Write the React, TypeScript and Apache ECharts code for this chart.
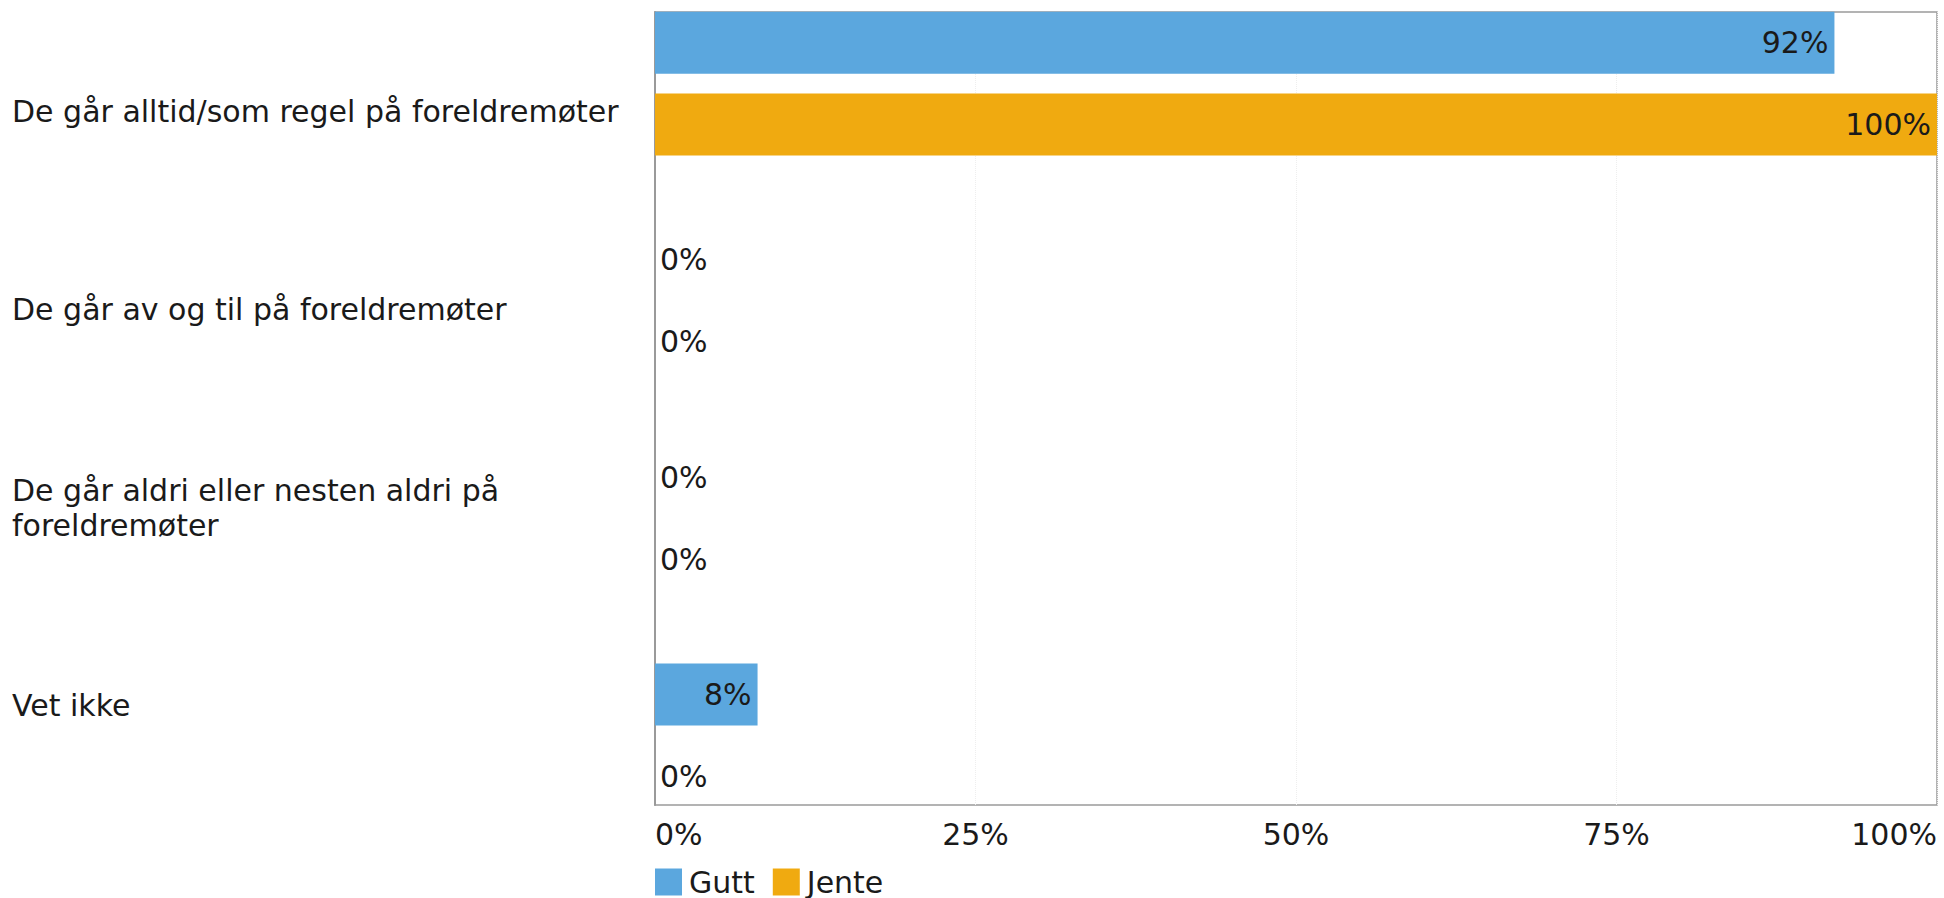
import React, { useEffect, useRef } from "react";
import * as echarts from "echarts";

const categories = [
  "De går alltid/som regel på foreldremøter",
  "De går av og til på foreldremøter",
  "De går aldri eller nesten aldri på\nforeldremøter",
  "Vet ikke",
];
const seriesNames = ["Gutt", "Jente"];
const gutt = [92, 0, 0, 8];
const jente = [100, 0, 0, 0];
const xTicks = [0, 25, 50, 75, 100];

const COLORS = ["#5BA7DE", "#F0AA10"];
const FONT = "'DejaVu Sans', Verdana, sans-serif";
const TEXT = "#1a1a1a";
const SHIFT = 25; // container is shifted up so the bar band can start above the frame

export default function App() {
  const ref = useRef<HTMLDivElement>(null);
  useEffect(() => {
    if (!ref.current) return;
    const chart = echarts.init(ref.current, null, { renderer: "svg" });
    const mk = (vals: number[]) =>
      vals.map((v) => ({
        value: v,
        label:
          v === 0
            ? { position: "right", distance: 5 }
            : { position: "insideRight", distance: 6 },
      }));
    chart.setOption({
      animation: false,
      textStyle: { fontFamily: FONT },
      legend: {
        data: seriesNames,
        left: 655,
        top: 867 + SHIFT,
        icon: "rect",
        itemWidth: 27,
        itemHeight: 27,
        itemGap: 18,
        padding: 0,
        textStyle: { fontSize: 30, color: TEXT, fontFamily: FONT, padding: [0, 0, 0, 2] },
      },
      grid: [
        {
          left: 655,
          top: 12 + SHIFT,
          width: 1282,
          height: 793,
          show: true,
          borderColor: "#9a9a9a",
          borderWidth: 1.5,
          backgroundColor: "transparent",
        },
        { left: 655, top: 0, width: 1282, height: 869 },
      ],
      xAxis: [
        {
          gridIndex: 0,
          type: "value",
          min: xTicks[0],
          max: xTicks[xTicks.length - 1],
          interval: 25,
          axisLine: { show: false },
          axisTick: { show: false },
          splitLine: { show: true, lineStyle: { color: "#eeeeee", type: "dotted" } },
          axisLabel: {
            formatter: "{value}%",
            fontSize: 30,
            color: TEXT,
            fontFamily: FONT,
            margin: 14,
            alignMinLabel: "left",
            alignMaxLabel: "right",
          },
        },
        {
          gridIndex: 1,
          type: "value",
          min: 0,
          max: 100,
          show: false,
        },
      ],
      yAxis: [
        {
          gridIndex: 0,
          type: "category",
          inverse: true,
          data: categories,
          axisLine: { show: true, lineStyle: { color: "#9a9a9a", width: 2 } },
          axisTick: { show: false },
          axisLabel: {
            align: "left",
            margin: 643,
            fontSize: 30,
            lineHeight: 35,
            color: TEXT,
            fontFamily: FONT,
          },
        },
        {
          gridIndex: 1,
          type: "category",
          inverse: true,
          data: categories,
          show: false,
        },
      ],
      series: [
        {
          name: seriesNames[0],
          type: "bar",
          xAxisIndex: 1,
          yAxisIndex: 1,
          barWidth: 62,
          barGap: "32%",
          itemStyle: { color: COLORS[0] },
          label: {
            show: true,
            formatter: "{c}%",
            fontSize: 30,
            color: TEXT,
            fontFamily: FONT,
          },
          data: mk(gutt),
        },
        {
          name: seriesNames[1],
          type: "bar",
          xAxisIndex: 1,
          yAxisIndex: 1,
          barWidth: 62,
          barGap: "32%",
          itemStyle: { color: COLORS[1] },
          label: {
            show: true,
            formatter: "{c}%",
            fontSize: 30,
            color: TEXT,
            fontFamily: FONT,
          },
          data: mk(jente),
        },
      ],
    });
    return () => chart.dispose();
  }, []);
  return (
    <div
      ref={ref}
      style={{
        position: "fixed",
        left: 0,
        top: -SHIFT,
        width: 1944,
        height: 898 + SHIFT,
        background: "#fff",
      }}
    />
  );
}
